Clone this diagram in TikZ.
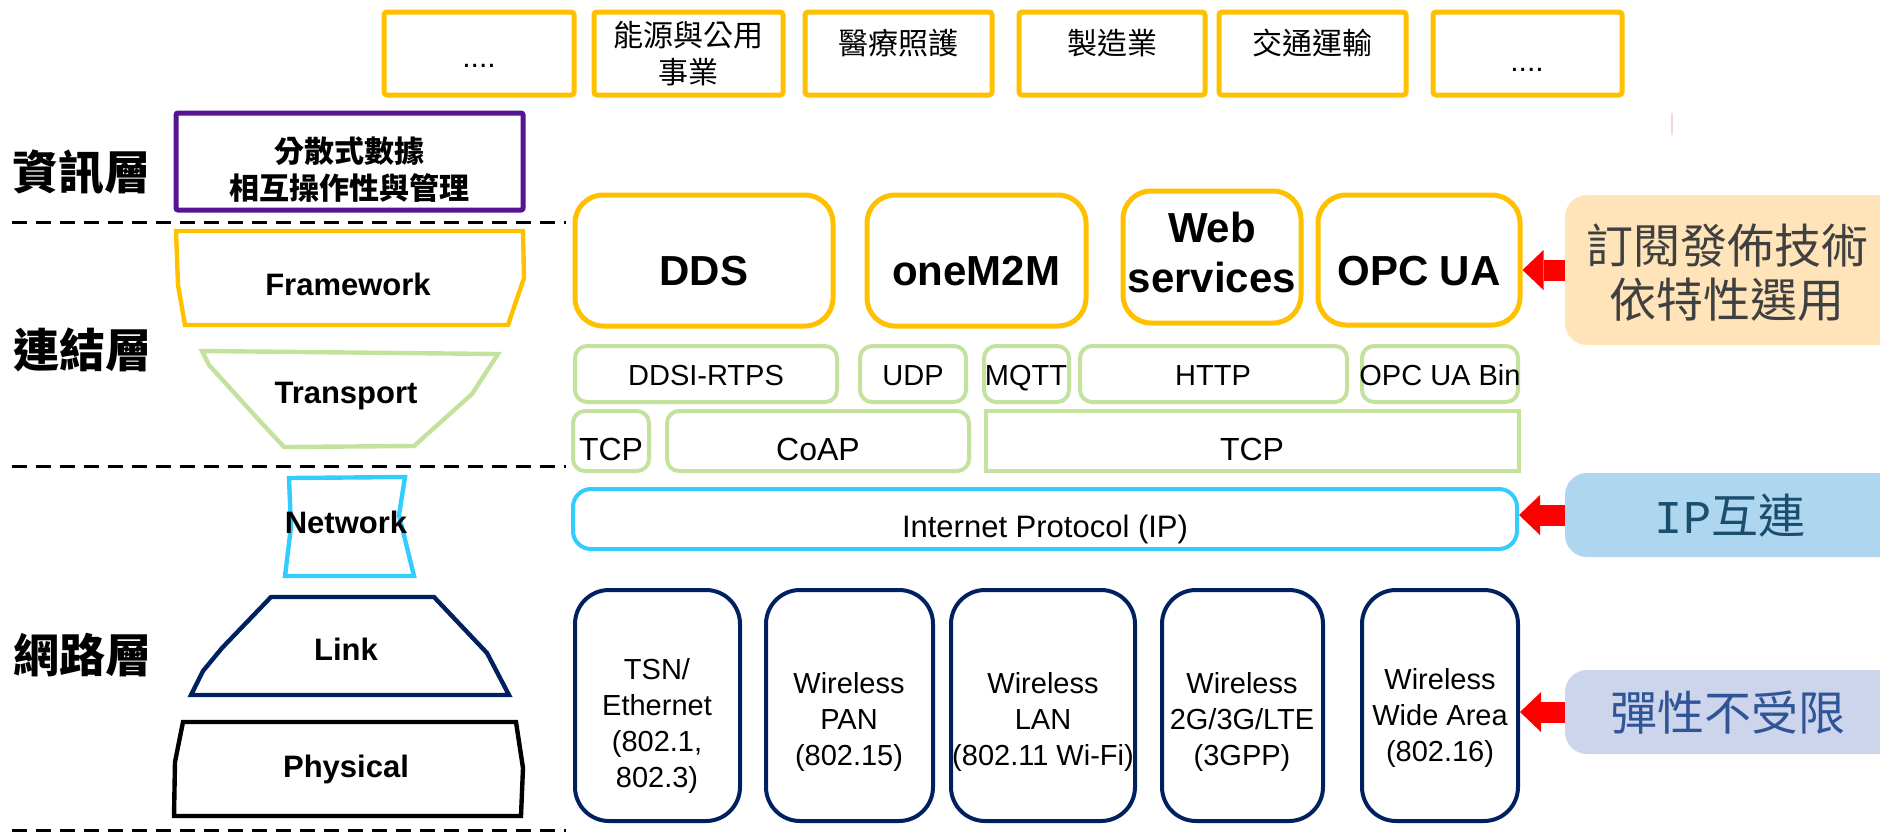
\documentclass[tikz,border=0pt]{standalone}
\usepackage{fontspec}
\setmainfont{Liberation Sans}
\newfontfamily\cjk{Noto Sans CJK TC}
\newfontfamily\monof{Liberation Mono}
\usetikzlibrary{arrows.meta}
\definecolor{ylw}{HTML}{FFC000}
\definecolor{grn}{HTML}{C3E29E}
\definecolor{cyn}{HTML}{33CCFF}
\definecolor{nvy}{HTML}{002060}
\definecolor{prp}{HTML}{561394}
\definecolor{orgfill}{HTML}{FFE4B9}
\definecolor{blufill}{HTML}{AED6EE}
\definecolor{lavfill}{HTML}{CDD5ED}
\definecolor{orgtxt}{HTML}{404040}
\definecolor{blutxt}{HTML}{1A4E6E}
\definecolor{lavtxt}{HTML}{2F5597}
\definecolor{faint}{HTML}{F4D6D2}
\newcommand\mybox[6]{%
  \pgfmathsetmacro\mybw{(#4-#2)/2}%
  \pgfmathsetmacro\mybh{(#5-#3)/2}%
  \node[#6, inner sep=0pt, minimum width=\mybw pt, minimum height=\mybh pt] (#1) at ({(#2+#4)/2},{(#3+#5)/2}) {};}
\begin{document}
\begin{tikzpicture}[x=0.5pt,y=-0.5pt,
  topbox/.style={draw=ylw, line width=2.5pt, rounded corners=1.5pt},
  prpbox/.style={draw=prp, line width=2.5pt, rounded corners=1pt},
  fwbox/.style={draw=ylw, line width=2.5pt, rounded corners=14pt},
  trbox/.style={draw=grn, line width=2pt, rounded corners=6pt},
  trrect/.style={draw=grn, line width=2pt},
  ipbox/.style={draw=cyn, line width=2pt, rounded corners=9pt},
  lkbox/.style={draw=nvy, line width=2pt, rounded corners=17pt},
  sidebox/.style={rounded corners=11pt},
  cjktop/.style={font=\cjk\fontsize{15}{18.5}\selectfont, align=center, inner sep=0pt},
  cjkbold/.style={font=\cjk\bfseries\fontsize{15}{18.5}\selectfont, align=center, inner sep=0pt},
  layerlbl/.style={font=\cjk\bfseries\fontsize{23}{27}\selectfont, inner sep=0pt},
  shplbl/.style={font=\bfseries\fontsize{15.5}{18}\selectfont, anchor=base, inner sep=0pt},
  fwlbl/.style={font=\bfseries\fontsize{21}{25}\selectfont, align=center, inner sep=0pt},
  trlbl/.style={font=\fontsize{14.5}{17}\selectfont, anchor=base, inner sep=0pt},
  trlblb/.style={font=\fontsize{16}{18}\selectfont, anchor=base, inner sep=0pt},
  lklbl/.style={font=\fontsize{14.5}{18}\selectfont, align=center, inner sep=0pt},
  sidelbl/.style={font=\cjk\fontsize{23.5}{27}\selectfont, align=center, inner sep=0pt},
  dsh/.style={line width=1.5pt, dash pattern=on 7.5pt off 4.5pt},
  redarr/.style={draw=red, line width=10.5pt, -{Triangle[length=10.5pt, width=20pt, line width=0pt]}},
  shape line/.style={line width=2.2pt}
]
\useasboundingbox (0,0) rectangle (1880,832);

% ---------- top application boxes ----------
\mybox{app1}{384}{12}{574}{95}{topbox}
\mybox{app2}{594}{12}{783}{95}{topbox}
\mybox{app3}{805}{12}{992}{95}{topbox}
\mybox{app4}{1019}{12}{1205}{95}{topbox}
\mybox{app5}{1219}{12}{1406}{95}{topbox}
\mybox{app6}{1433}{12}{1622}{95}{topbox}
\node[font=\fontsize{15}{18}\selectfont, anchor=base, inner sep=0pt] (app1t) at (479,67) {....};
\node[cjktop] (app2t) at (688,54) {能源與公用\\事業};
\node[cjktop] (app3t) at (898,43) {醫療照護};
\node[cjktop] (app4t) at (1112,43) {製造業};
\node[cjktop] (app5t) at (1312,43) {交通運輸};
\node[font=\fontsize{15}{18}\selectfont, anchor=base, inner sep=0pt] (app6t) at (1527,71) {....};

% faint mark
\coordinate (fa) at (1672,113);
\coordinate (fb) at (1672,135);
\draw[faint, line width=0.7pt] (fa) -- (fb);

% ---------- information layer ----------
\mybox{dist}{176}{113}{523}{210}{prpbox}
\node[cjkbold] (distt) at (349,170) {分散式數據\\相互操作性與管理};
\node[layerlbl] (info) at (81,172) {資訊層};
\node[layerlbl] (conn) at (82,350) {連結層};
\node[layerlbl] (netl) at (82,655) {網路層};

% dashed separators
\coordinate (d1a) at (12,222); \coordinate (d1b) at (566,222);
\coordinate (d2a) at (12,466); \coordinate (d2b) at (566,466);
\coordinate (d3a) at (12,830); \coordinate (d3b) at (566,830);
\draw[dsh] (d1a) -- (d1b);
\draw[dsh] (d2a) -- (d2b);
\draw[dsh] (d3a) -- (d3b);

% ---------- left funnel shapes ----------
\draw[shape line, draw=ylw] (176,231) -- (523,231) -- (524,278) -- (508,325) -- (185,325) -- (178,285) -- cycle;
\node[shplbl] (fwk) at (348,295) {Framework};
\draw[shape line, draw=grn] (202,351) -- (498,354) -- (472,394) -- (414,446) -- (284,447) -- (258,419) -- (209,365) -- cycle;
\node[shplbl] (trn) at (346,403) {Transport};
\draw[shape line, draw=cyn] (289,478) -- (405,477) -- (399,515) -- (414,576) -- (285,576) -- (291,527) -- cycle;
\node[shplbl] (ntw) at (346,533) {Network};
\draw[shape line, draw=nvy] (271,597) -- (434,597) -- (487,653) -- (509,695) -- (191,695) -- (203,671) -- (222,648) -- cycle;
\node[shplbl] (lnk) at (346,660) {Link};
\draw[shape line, draw=black] (183,722) -- (516,722) -- (523,768) -- (521,816) -- (174,816) -- (175,762) -- cycle;
\node[shplbl] (phy) at (346,777) {Physical};

% ---------- framework row ----------
\mybox{dds}{575}{195}{833}{326}{fwbox}
\mybox{m2m}{867}{195}{1086}{326}{fwbox}
\mybox{web}{1123}{191}{1301}{323}{fwbox}
\mybox{opc}{1318}{195}{1520}{325}{fwbox}
\node[fwlbl, anchor=base] (ddst) at (704,285) {DDS};
\node[fwlbl, anchor=base] (m2mt) at (976,285) {oneM2M};
\node[fwlbl, font=\bfseries\fontsize{21}{25}\selectfont] (webt) at (1212,252) {Web\\services};
\node[fwlbl, anchor=base] (opct) at (1419,285) {OPC UA};

% ---------- transport rows ----------
\mybox{ddsi}{575}{346}{837}{402}{trbox}
\mybox{udp}{860}{346}{966}{402}{trbox}
\mybox{mqtt}{984}{346}{1069}{402}{trbox}
\mybox{http}{1080}{346}{1347}{402}{trbox}
\mybox{opcb}{1362}{346}{1518}{402}{trbox}
\node[trlbl] (ddsit) at (706,385) {DDSI-RTPS};
\node[trlbl] (udpt) at (913,385) {UDP};
\node[trlbl] (mqttt) at (1026,385) {MQTT};
\node[trlbl] (httpt) at (1213,385) {HTTP};
\node[trlbl] (opcbt) at (1440,385) {OPC UA Bin};

\mybox{tcpa}{573}{411}{649}{471}{trbox}
\mybox{coap}{667}{411}{969}{471}{trbox}
\mybox{tcpb}{986}{411}{1519}{471}{trrect}
\node[trlblb] (tcpat) at (611,460) {TCP};
\node[trlblb] (coapt) at (818,460) {CoAP};
\node[trlblb] (tcpbt) at (1252,460) {TCP};

% ---------- IP ----------
\mybox{ip}{573}{489}{1517}{549}{ipbox}
\node[trlbl, font=\fontsize{15.5}{18}\selectfont] (ipt) at (1045,537) {Internet Protocol (IP)};

% ---------- link boxes ----------
\mybox{lk1}{575}{590}{740}{821}{lkbox}
\mybox{lk2}{766}{590}{933}{821}{lkbox}
\mybox{lk3}{951}{590}{1135}{821}{lkbox}
\mybox{lk4}{1162}{590}{1323}{821}{lkbox}
\mybox{lk5}{1362}{590}{1518}{821}{lkbox}
\node[lklbl] (lk1t) at (657,726) {TSN/\\Ethernet\\(802.1,\\802.3)};
\node[lklbl] (lk2t) at (849,722) {Wireless\\PAN\\(802.15)};
\node[lklbl] (lk3t) at (1043,722) {Wireless\\LAN\\(802.11 Wi-Fi)};
\node[lklbl] (lk4t) at (1242,722) {Wireless\\2G/3G/LTE\\(3GPP)};
\node[lklbl] (lk5t) at (1440,718) {Wireless\\Wide Area\\(802.16)};

% ---------- right side notes ----------
\mybox{orng}{1565}{195}{1900}{345}{sidebox, fill=orgfill}
\mybox{blu}{1565}{473}{1900}{557}{sidebox, fill=blufill}
\mybox{lav}{1565}{670}{1900}{754}{sidebox, fill=lavfill}
\node[sidelbl, text=orgtxt] (orngt) at (1727,273) {訂閱發佈技術\\依特性選用};
\node[sidelbl, text=blutxt] (blut) at (1730,516) {{\monof IP}互連};
\node[sidelbl, text=lavtxt] (lavt) at (1728,713) {彈性不受限};

\draw[redarr] (orng.west) -- (orng.west -| opc.east);
\draw[redarr] (blu.west) -- (blu.west -| ip.east);
\draw[redarr] (lav.west) -- (lav.west -| lk5.east);
\end{tikzpicture}
\end{document}
